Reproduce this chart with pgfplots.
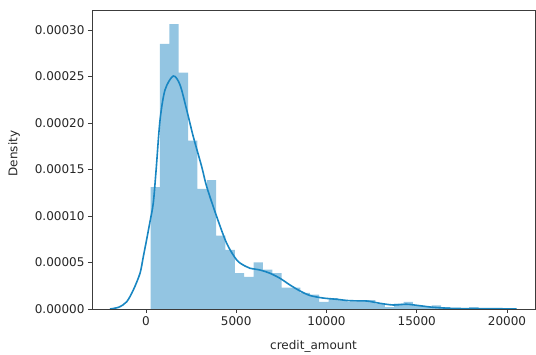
\documentclass[border=0pt]{standalone}
\usepackage{pgfplots}
\pgfplotsset{compat=1.18}
\usepackage{fontspec}
\setmainfont{DejaVu Sans}
\definecolor{barblue}{RGB}{147,197,226}
\definecolor{lineblue}{RGB}{24,134,194}
\definecolor{spine}{RGB}{60,60,60}

\pgfplotstableread{
x y
250 1.3096e-4
769.26 2.8503e-4
1288.5 3.0621e-4
1807.8 2.5421e-4
2327.0 1.8103e-4
2846.3 1.2903e-4
3365.6 1.3866e-4
3884.8 7.896e-5
4404.1 6.355e-5
4923.3 3.852e-5
5442.6 3.467e-5
5961.9 5.007e-5
6481.1 4.237e-5
7000.4 3.852e-5
7519.6 2.311e-5
8038.9 2.311e-5
8558.2 1.733e-5
9077.4 1.541e-5
9596.7 7.70e-6
10115.9 1.156e-5
10635.2 9.63e-6
11154.5 7.70e-6
11673.7 9.63e-6
12193.0 9.63e-6
12712.2 5.78e-6
13231.5 1.93e-6
13750.8 5.78e-6
14270.0 7.70e-6
14789.3 3.85e-6
15308.5 1.93e-6
15827.8 3.85e-6
16347.1 1.93e-6
16866.3 0
17385.6 0
17904.8 1.93e-6
18424 1.93e-6
}\histdata

\pgfplotstableread{
x y
-1994 0
-1500 2.0e-6
-1069 7.8e-6
-704 2.04e-5
-332 3.84e-5
-150 5.62e-5
39 7.5e-5
222 9.4e-5
404 1.14e-4
560 1.495e-4
776 2.03e-4
1053 2.355e-4
1512 2.505e-4
1884 2.41e-4
2255 2.14e-4
2620 1.853e-4
3086 1.53e-4
3363 1.315e-4
3917 9.93e-5
4471 7.06e-5
5025 5.27e-5
5485 4.62e-5
5762 4.38e-5
6316 4.19e-5
6870 3.84e-5
7424 3.3e-5
7978 2.58e-5
8532 1.94e-5
9086 1.45e-5
9806 1.18e-5
10582 1.04e-5
11302 8.9e-6
12227 8.6e-6
12964 6.1e-6
13700 4.3e-6
14443 5.1e-6
15180 3.5e-6
15917 1.8e-6
16842 7.5e-7
17767 4e-7
19058 3e-7
20537 1e-7
}\kdedata

\begin{document}
\begin{tikzpicture}
\begin{axis}[
  scale only axis, width=443pt, height=299pt,
  xmin=-2992, xmax=21551, ymin=0, ymax=3.215e-4,
  axis line style={spine, line width=0.8pt},
  tick align=outside, major tick length=4pt,
  tick style={spine, line width=0.8pt},
  xtick pos=bottom, ytick pos=left,
  xtick={0,5000,10000,15000,20000},
  ytick={0,5e-5,1e-4,1.5e-4,2e-4,2.5e-4,3e-4},
  scaled x ticks=false, scaled y ticks=false,
  xticklabel style={/pgf/number format/.cd, fixed, precision=0, 1000 sep={}, assume math mode=true},
  yticklabel style={/pgf/number format/.cd, fixed, fixed zerofill, precision=5, assume math mode=true},
  every tick label/.append style={font=\fontsize{12}{14}\selectfont, text=black!85},
  label style={font=\fontsize{12}{14}\selectfont, text=black!85},
  xlabel={credit\_amount},
  ylabel={Density},
  xlabel style={at={(axis description cs:0.5,-0.126)}, anchor=center},
  ylabel style={at={(axis description cs:-0.176,0.52)}, anchor=center, rotate=0},
]
\addplot[ybar interval, fill=barblue, draw=none] table[x=x, y=y] {\histdata};
\addplot[lineblue, line width=1.6pt, smooth, tension=0.5] table[x=x, y=y] {\kdedata};
\end{axis}
\pgfresetboundingbox
\path (-92pt,-46pt) rectangle (444pt,309pt);
\end{tikzpicture}
\end{document}
